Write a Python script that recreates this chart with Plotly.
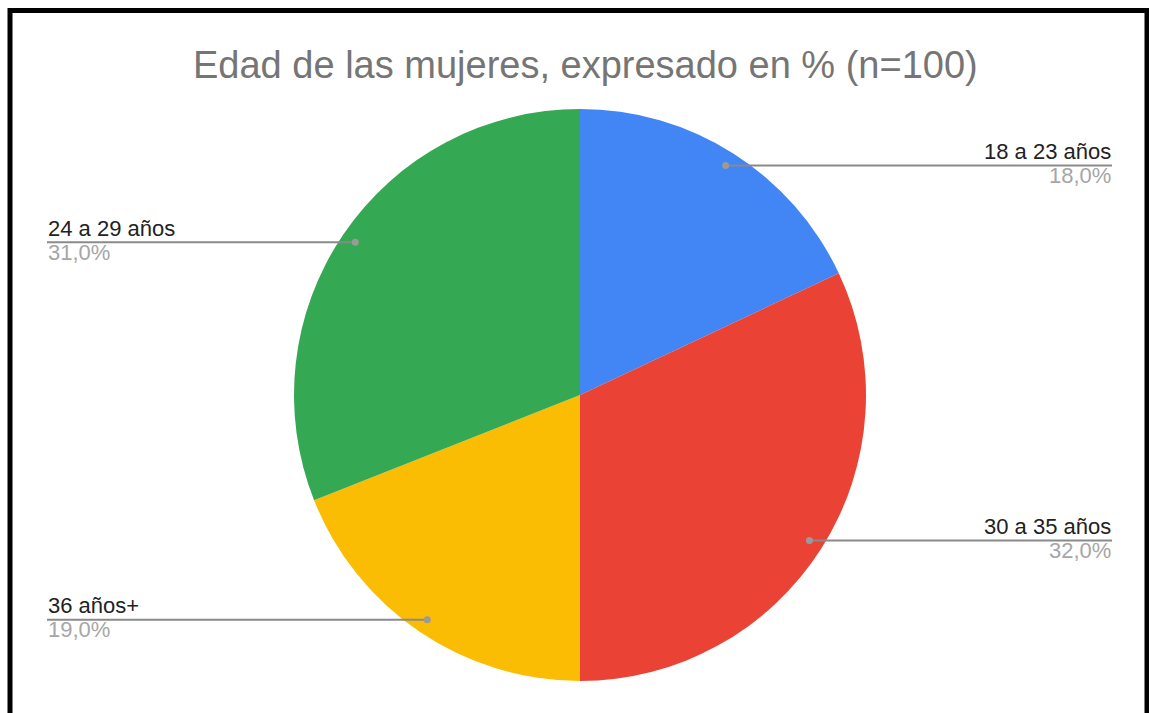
import math
import plotly.graph_objects as go

# ---- data ----
categories = ["18 a 23 años", "30 a 35 años", "36 años+", "24 a 29 años"]
values = [18, 32, 19, 31]
pct_labels = ["18,0%", "32,0%", "19,0%", "31,0%"]
colors = ["#4285F4", "#EA4335", "#FBBC04", "#34A853"]
title_text = "Edad de las mujeres, expresado en % (n=100)"

W, H = 1149, 713
CX, CY, R = 580, 395, 286
LEFT_X, RIGHT_X = 47, 1112
FONT = "Liberation Sans, Arial"

fig = go.Figure()
fig.add_trace(go.Pie(
    labels=categories, values=values, sort=False, direction="clockwise",
    rotation=0, marker=dict(colors=colors, line=dict(width=0)),
    textinfo="none", hoverinfo="label+percent", showlegend=False,
    domain=dict(x=[(CX - R) / W, (CX + R) / W],
                y=[(H - CY - R) / H, (H - CY + R) / H]),
))

shapes = []
annotations = []
total = sum(values)
cum = 0
for cat, v, pl in zip(categories, values, pct_labels):
    mid = (cum + v / 2) / total * 2 * math.pi
    cum += v
    dx = CX + 0.95 * R * math.sin(mid)
    dy = CY - 0.95 * R * math.cos(mid)
    right = math.sin(mid) > 0
    x_end = RIGHT_X if right else LEFT_X
    shapes.append(dict(type="line", xref="x", yref="y", x0=dx, y0=dy, x1=x_end, y1=dy,
                       line=dict(color="#8a8a8a", width=2)))
    shapes.append(dict(type="circle", xref="x", yref="y", x0=dx - 3.5, y0=dy - 3.5,
                       x1=dx + 3.5, y1=dy + 3.5, fillcolor="#9a9a9a", line=dict(width=0)))
    anchor = "right" if right else "left"
    annotations.append(dict(x=x_end, y=dy - 14, xref="x", yref="y", text=cat, showarrow=False,
                            xanchor=anchor, yanchor="middle", borderpad=0,
                            font=dict(family=FONT, size=22, color="#222222")))
    annotations.append(dict(x=x_end, y=dy + 10, xref="x", yref="y", text=pl, showarrow=False,
                            xanchor=anchor, yanchor="middle", borderpad=0,
                            font=dict(family=FONT, size=22, color="#a6a6a6")))

# title
annotations.append(dict(x=585, y=65, xref="x", yref="y", text=title_text, showarrow=False,
                        xanchor="center", yanchor="middle",
                        font=dict(family=FONT, size=38, color="#757575")))

# outer frame (open at bottom)
shapes.append(dict(type="path", xref="x", yref="y",
                   path="M 10 %d L 10 10.5 L 1147 10.5 L 1147 %d" % (H + 5, H + 5),
                   line=dict(color="#000000", width=5)))

fig.update_layout(
    width=W, height=H, margin=dict(l=0, r=0, t=0, b=0),
    paper_bgcolor="white", plot_bgcolor="white",
    xaxis=dict(range=[0, W], visible=False, fixedrange=True),
    yaxis=dict(range=[H, 0], visible=False, fixedrange=True),
    shapes=shapes, annotations=annotations,
)
fig.write_html("out.html", config={"displayModeBar": False},
               post_script="document.body.style.margin='0';document.body.style.overflow='hidden';")
